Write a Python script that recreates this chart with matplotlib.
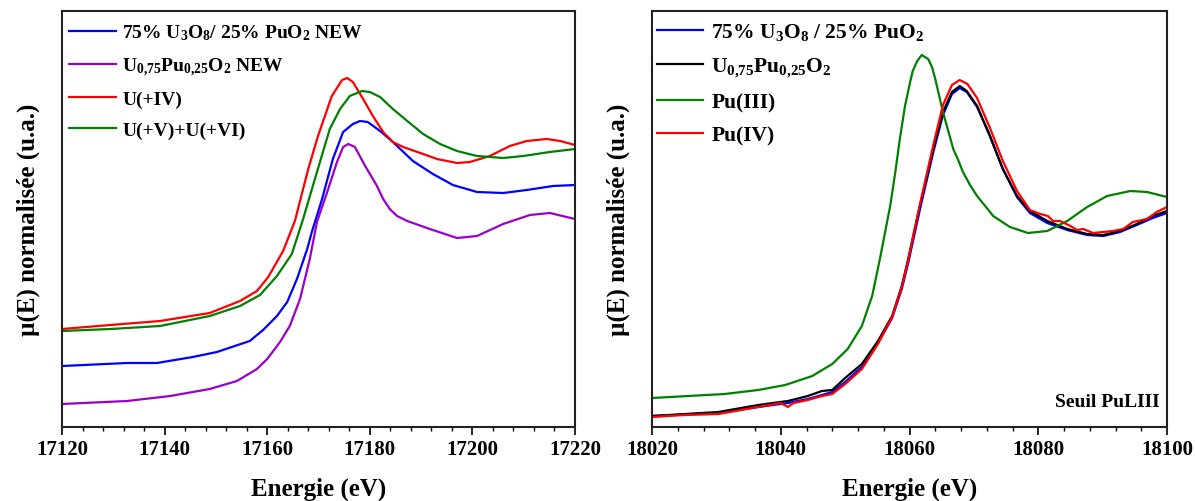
import numpy as np
import matplotlib
matplotlib.use('Agg')
import matplotlib.pyplot as plt
from matplotlib.ticker import MultipleLocator

plt.rcParams['font.family'] = ['Liberation Serif', 'DejaVu Serif']
plt.rcParams['font.weight'] = 'bold'
plt.rcParams['mathtext.fontset'] = 'custom'
plt.rcParams['mathtext.rm'] = 'Liberation Serif:bold'
plt.rcParams['mathtext.it'] = 'Liberation Serif:italic:bold'
plt.rcParams['mathtext.bf'] = 'Liberation Serif:bold'

# ---- U L3 edge (left panel) ----
e_red = [17120, 17129.4, 17139.1, 17148.8, 17154.7, 17158.0, 17160.2, 17163.1, 17165.4,
         17168.0, 17169.9, 17172.6, 17174.6, 17175.6, 17176.7, 17178.7, 17180.6, 17182.6,
         17184.5, 17186.5, 17190.4, 17193.1, 17197.0, 17199.5, 17203.4, 17207.3, 17210.6,
         17214.5, 17217.1, 17220]
mu_red = [0.98, 1.02, 1.06, 1.14, 1.26, 1.36, 1.50, 1.76, 2.06,
          2.58, 2.91, 3.31, 3.47, 3.49, 3.45, 3.28, 3.11, 2.95,
          2.85, 2.80, 2.73, 2.68, 2.64, 2.65, 2.71, 2.81, 2.86,
          2.88, 2.86, 2.82]

e_green = [17120, 17129.5, 17139.1, 17148.8, 17154.7, 17158.6, 17161.9, 17164.8, 17167.0,
           17169.7, 17172.2, 17174.2, 17176.1, 17178.5, 17180.0, 17182.0, 17184.5, 17187.3,
           17190.4, 17193.7, 17197.0, 17200.9, 17206.0, 17209.9, 17215.1, 17220]
mu_green = [0.96, 0.98, 1.01, 1.11, 1.21, 1.32, 1.51, 1.73, 2.08,
            2.55, 2.98, 3.18, 3.31, 3.36, 3.35, 3.30, 3.18, 3.06,
            2.93, 2.83, 2.76, 2.71, 2.69, 2.71, 2.75, 2.78]

e_blue = [17120, 17132.7, 17138.5, 17145.5, 17150.2, 17156.6, 17159.2, 17161.9, 17163.9,
          17165.8, 17167.8, 17168.7, 17170.7, 17172.8, 17174.8, 17176.7, 17178.1, 17179.6,
          17182.0, 17184.5, 17188.4, 17192.3, 17196.2, 17200.9, 17206.0, 17210.6, 17215.7,
          17220]
mu_blue = [0.61, 0.64, 0.64, 0.70, 0.75, 0.86, 0.97, 1.11, 1.25,
           1.48, 1.78, 1.95, 2.28, 2.68, 2.95, 3.03, 3.06, 3.05,
           2.96, 2.85, 2.66, 2.53, 2.42, 2.35, 2.34, 2.37, 2.41,
           2.42]

e_purple = [17120, 17132.7, 17141.1, 17148.8, 17154.1, 17158.0, 17160.0, 17162.5, 17164.4,
            17166.4, 17168.3, 17169.7, 17171.7, 17173.6, 17174.8, 17175.8, 17177.1, 17179.1,
            17181.4, 17182.6, 17183.9, 17185.3, 17187.3, 17191.7, 17197.0, 17200.9, 17206.0,
            17211.2, 17215.1, 17220]
mu_purple = [0.23, 0.26, 0.31, 0.38, 0.46, 0.58, 0.68, 0.85, 1.01,
             1.28, 1.68, 2.05, 2.35, 2.65, 2.80, 2.83, 2.80, 2.61,
             2.41, 2.28, 2.18, 2.11, 2.06, 1.98, 1.89, 1.91, 2.03,
             2.12, 2.14, 2.08]

# ---- Pu L3 edge (right panel) ----
e_pu3 = [18020.0, 18031.3, 18036.5, 18040.7, 18044.9, 18048.0, 18050.4, 18052.6, 18054.2,
         18055.4, 18057.0, 18057.8, 18058.5, 18059.3, 18060.1, 18060.5, 18061.2, 18061.9,
         18062.9, 18063.5, 18064.0, 18065.2, 18066.8, 18067.5, 18068.3, 18069.4, 18070.5,
         18073.0, 18075.6, 18078.4, 18081.4, 18084.5, 18087.6, 18090.7, 18094.3, 18096.9,
         18100.0]
mu_pu3 = [0.29, 0.33, 0.37, 0.42, 0.51, 0.63, 0.78, 1.01, 1.31,
          1.68, 2.21, 2.55, 2.88, 3.21, 3.45, 3.56, 3.66, 3.72,
          3.68, 3.60, 3.48, 3.15, 2.78, 2.68, 2.55, 2.42, 2.31,
          2.11, 2.00, 1.94, 1.96, 2.06, 2.20, 2.31, 2.36, 2.35,
          2.30]

e_mix = [18020.0, 18030.3, 18036.5, 18041.1, 18044.2, 18046.4, 18048.0, 18050.0, 18052.6,
         18055.1, 18057.3, 18058.8, 18059.8, 18061.6, 18063.7, 18065.2, 18066.6, 18067.8,
         18068.9, 18070.5, 18072.5, 18074.5, 18076.7, 18078.7, 18081.4, 18084.5, 18087.6,
         18090.1, 18092.7, 18095.3, 18097.8, 18100.0]
mu_black = [0.11, 0.15, 0.22, 0.26, 0.31, 0.36, 0.37, 0.49, 0.63,
            0.86, 1.11, 1.41, 1.68, 2.21, 2.78, 3.15, 3.35, 3.41,
            3.36, 3.21, 2.91, 2.58, 2.31, 2.16, 2.06, 1.98, 1.93,
            1.92, 1.96, 2.03, 2.11, 2.16]
mu_blue2 = [0.11, 0.14, 0.20, 0.24, 0.28, 0.32, 0.35, 0.45, 0.60,
            0.84, 1.09, 1.38, 1.64, 2.17, 2.75, 3.12, 3.33, 3.39,
            3.35, 3.20, 2.91, 2.58, 2.30, 2.14, 2.04, 1.97, 1.92,
            1.91, 1.95, 2.02, 2.09, 2.14]

e_pu4 = [18020.0, 18025.0, 18030.3, 18036.5, 18040.0, 18041.1, 18042.0, 18044.2, 18046.4,
         18048.0, 18050.0, 18052.6, 18055.1, 18057.3, 18058.8, 18059.8, 18061.6, 18063.7,
         18065.2, 18066.6, 18067.8, 18069.0, 18070.5, 18072.5, 18074.5, 18076.7, 18078.7,
         18080.3, 18081.5, 18082.3, 18083.4, 18085.0, 18086.0, 18087.0, 18088.5, 18090.1,
         18091.6, 18093.2, 18094.7, 18096.9, 18098.4, 18100.0]
mu_pu4 = [0.10, 0.12, 0.13, 0.20, 0.24, 0.20, 0.24, 0.27, 0.31,
          0.33, 0.43, 0.58, 0.83, 1.10, 1.40, 1.67, 2.22, 2.82,
          3.22, 3.42, 3.47, 3.43, 3.29, 2.99, 2.66, 2.36, 2.17,
          2.13, 2.11, 2.06, 2.06, 2.01, 1.97, 1.98, 1.94, 1.95,
          1.96, 1.98, 2.05, 2.08, 2.15, 2.20]

fig = plt.figure(figsize=(11.95, 5.02), dpi=100)
ax1 = fig.add_axes([62 / 1195, 74 / 502, 513 / 1195, 416 / 502])
ax2 = fig.add_axes([652 / 1195, 74 / 502, 515 / 1195, 416 / 502])

lw = 1.6
ax1.plot(e_blue, mu_blue, color='#0000ff', lw=lw, label='75% U$_3$O$_8$/ 25% PuO$_2$ NEW')
ax1.plot(e_purple, mu_purple, color='#9900cc', lw=lw, label='U$_{0{,}75}$Pu$_{0{,}25}$O$_2$ NEW')
ax1.plot(e_red, mu_red, color='#ff0000', lw=lw, label='U(+IV)')
ax1.plot(e_green, mu_green, color='#008000', lw=lw, label='U(+V)+U(+VI)')

ax2.plot(e_mix, mu_blue2, color='#0000ff', lw=lw, label='75% U$_3$O$_8$ / 25% PuO$_2$')
ax2.plot(e_mix, mu_black, color='#000000', lw=lw, label='U$_{0{,}75}$Pu$_{0{,}25}$O$_2$')
ax2.plot(e_pu3, mu_pu3, color='#008000', lw=lw, label='Pu(III)')
ax2.plot(e_pu4, mu_pu4, color='#ff0000', lw=lw, label='Pu(IV)')

ax1.set_xlim(17120, 17220)
ax2.set_xlim(18020, 18100)
for ax in (ax1, ax2):
    ax.set_ylim(0, 4.16)
    ax.set_yticks([])
    ax.xaxis.set_major_locator(MultipleLocator(20))
    ax.xaxis.set_minor_locator(MultipleLocator(4))
    ax.tick_params(axis='x', which='major', direction='out', length=6, width=1.2,
                   labelsize=15, pad=3)
    ax.tick_params(axis='x', which='minor', direction='out', length=3, width=1.0)
    for s in ax.spines.values():
        s.set_linewidth(1.5)
        s.set_color('#222222')
    ax.set_xlabel('Energie (eV)', fontsize=18, fontweight='bold', labelpad=12.5)
    ax.set_ylabel('µ(E) normalisée (u.a.)', fontsize=18, fontweight='bold', labelpad=16)

ax1.legend(loc='upper left', bbox_to_anchor=(0.0136, 0.972), frameon=False,
           handlelength=2.4, handletextpad=0.35, labelspacing=0.66,
           borderaxespad=0, borderpad=0, prop={'weight': 'bold', 'size': 14})
ax2.legend(loc='upper left', bbox_to_anchor=(0.0097, 0.975), frameon=False,
           handlelength=2.15, handletextpad=0.37, labelspacing=0.62,
           borderaxespad=0, borderpad=0, prop={'weight': 'bold', 'size': 15.5})

ax2.text(0.985, 0.04, 'Seuil PuLIII', transform=ax2.transAxes, ha='right', va='bottom',
         fontsize=14, fontweight='bold')

fig.savefig('out.png', dpi=100)
